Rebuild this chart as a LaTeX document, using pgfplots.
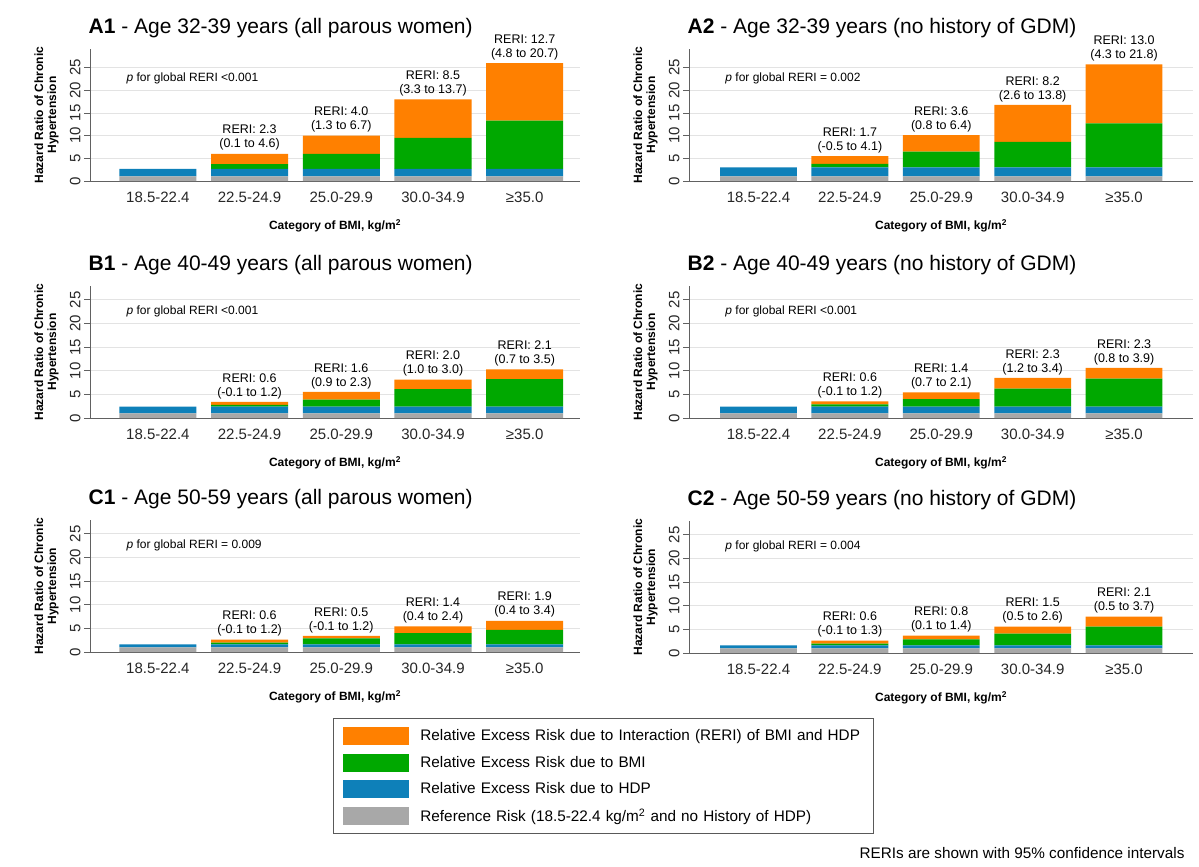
\documentclass[border=0pt]{standalone}
\usepackage{fontspec}
\setmainfont{Liberation Sans}
\usepackage{pgfplots}
\pgfplotsset{compat=1.18}
\usepackage{pgfplotstable}

\definecolor{corange}{RGB}{255,128,0}
\definecolor{cgreen}{RGB}{0,168,0}
\definecolor{cblue}{RGB}{14,128,185}
\definecolor{cgray}{RGB}{168,168,168}

\newcommand\ftitle{\fontsize{21bp}{25bp}\selectfont}
\newcommand\ftick{\fontsize{15bp}{18bp}\selectfont}
\newcommand\flab{\fontsize{12bp}{13bp}\selectfont\bfseries}
\newcommand\freri{\fontsize{12.5bp}{14bp}\selectfont}
\newcommand\fp{\fontsize{12bp}{14bp}\selectfont}
\newcommand\fleg{\fontsize{15.3bp}{18bp}\selectfont}

% columns: x, reference risk, excess due to HDP, excess due to BMI, RERI
\pgfplotstableread{
x ref hdp bmi reri
0 1 1.7 0    0
1 1 1.7 1.0  2.3
2 1 1.7 3.3  4.0
3 1 1.7 6.8  8.5
4 1 1.7 10.6 12.7
}\tabAone
\pgfplotstableread{
x ref hdp bmi reri
0 1 2.0 0   0
1 1 2.0 0.8 1.7
2 1 2.0 3.5 3.6
3 1 2.0 5.6 8.2
4 1 2.0 9.7 13.0
}\tabAtwo
\pgfplotstableread{
x ref hdp bmi reri
0 1 1.4 0   0
1 1 1.4 0.4 0.6
2 1 1.4 1.5 1.6
3 1 1.4 3.7 2.0
4 1 1.4 5.8 2.1
}\tabBone
\pgfplotstableread{
x ref hdp bmi reri
0 1 1.4 0   0
1 1 1.4 0.5 0.6
2 1 1.4 1.6 1.4
3 1 1.4 3.8 2.3
4 1 1.4 5.9 2.3
}\tabBtwo
\pgfplotstableread{
x ref hdp bmi reri
0 1 0.6 0   0
1 1 0.6 0.4 0.6
2 1 0.6 1.3 0.5
3 1 0.6 2.4 1.4
4 1 0.6 3.1 1.9
}\tabCone
\pgfplotstableread{
x ref hdp bmi reri
0 1 0.6 0   0
1 1 0.6 0.4 0.6
2 1 0.6 1.3 0.8
3 1 0.6 2.5 1.5
4 1 0.6 4.0 2.1
}\tabCtwo

\tikzset{reri/.style={anchor=south, align=center, inner sep=0pt, yshift=3bp, font=\freri}}

\pgfplotsset{
  legimg/.style={legend image code/.code={\fill[##1] (0bp,-9bp) rectangle (66bp,9bp);}},
  panelbase/.style={
    ybar stacked, bar width=0.84,
    scale only axis, height=132bp, ymin=0,
    axis lines*=left,
    axis line style={draw=black!62, line width=1bp},
    ytick={0,5,10,15,20,25},
    xtick={0,1,2,3,4},
    xticklabels={18.5-22.4,22.5-24.9,25.0-29.9,30.0-34.9,≥35.0},
    ymajorgrids, major grid style={draw=black!11, line width=0.9bp},
    ytick align=outside, xtick align=inside,
    major tick length=6bp,
    ytick style={draw=black!62, line width=0.9bp},
    xtick style={draw=none},
    /pgf/number format/assume math mode=true,
    tick label style={font=\ftick, text=black!85},
    yticklabel style={rotate=90, anchor=south},
    xticklabel style={anchor=base, yshift=-21bp},
    ylabel={Hazard Ratio of Chronic\\Hypertension},
    ylabel style={font=\flab, align=center, at={(axis description cs:0,0.5)}, anchor=center, yshift=43.5bp},
    xlabel={Category of BMI, kg/m\textsuperscript{2}},
    xlabel style={font=\flab, at={(axis description cs:0.5,0)}, anchor=center, yshift=-45bp},
    title style={font=\ftitle, at={(axis description cs:0,1)}, anchor=base west, yshift=10bp, xshift=-1.5bp, inner sep=0pt},
    clip=false,
  },
  leftp/.style={panelbase, width=490bp, xmin=-0.74, xmax=4.603},
  rightp/.style={panelbase, width=504bp, xmin=-0.76, xmax=4.754},
  Arow/.style={ymax=29.1},
  BCrow/.style={ymax=27.9},
}

\newcommand\bars[1]{%
  \addplot[fill=cgray, draw=none, legimg] table[x=x, y=ref]{#1};
  \addplot[fill=cblue, draw=none, legimg] table[x=x, y=hdp]{#1};
  \addplot[fill=cgreen, draw=none, legimg] table[x=x, y=bmi]{#1};
  \addplot[fill=corange, draw=none, legimg] table[x=x, y=reri]{#1};
}
\newcommand\reri[3]{\node[reri] at (axis cs:#1,#2) {RERI: #3};}

\begin{document}
\begin{tikzpicture}
\path[use as bounding box] (0bp,0bp) rectangle (1199bp,-867bp);

% ---------------- A1
\begin{axis}[leftp, Arow, at={(90bp,-181bp)}, anchor=south west,
  title={\textbf{A1} - Age 32-39 years (all parous women)}]
\bars{\tabAone}
\node[anchor=west, font=\fp] at (axis cs:-0.38,22.6) {\textit{p} for global RERI <0.001};
\reri{1}{6.0}{2.3\\(0.1 to 4.6)}
\reri{2}{10.0}{4.0\\(1.3 to 6.7)}
\reri{3}{18.0}{8.5\\(3.3 to 13.7)}
\reri{4}{26.0}{12.7\\(4.8 to 20.7)}
\end{axis}

% ---------------- A2
\begin{axis}[rightp, Arow, at={(689bp,-181bp)}, anchor=south west,
  title={\textbf{A2} - Age 32-39 years (no history of GDM)}]
\bars{\tabAtwo}
\node[anchor=west, font=\fp] at (axis cs:-0.40,22.6) {\textit{p} for global RERI = 0.002};
\reri{1}{5.5}{1.7\\(-0.5 to 4.1)}
\reri{2}{10.1}{3.6\\(0.8 to 6.4)}
\reri{3}{16.8}{8.2\\(2.6 to 13.8)}
\reri{4}{25.7}{13.0\\(4.3 to 21.8)}
\end{axis}

% ---------------- B1
\begin{axis}[leftp, BCrow, at={(90bp,-418bp)}, anchor=south west,
  title={\textbf{B1} - Age 40-49 years (all parous women)}]
\bars{\tabBone}
\node[anchor=west, font=\fp] at (axis cs:-0.38,22.6) {\textit{p} for global RERI <0.001};
\reri{1}{3.4}{0.6\\(-0.1 to 1.2)}
\reri{2}{5.5}{1.6\\(0.9 to 2.3)}
\reri{3}{8.1}{2.0\\(1.0 to 3.0)}
\reri{4}{10.3}{2.1\\(0.7 to 3.5)}
\end{axis}

% ---------------- B2
\begin{axis}[rightp, BCrow, at={(689bp,-418bp)}, anchor=south west,
  title={\textbf{B2} - Age 40-49 years (no history of GDM)}]
\bars{\tabBtwo}
\node[anchor=west, font=\fp] at (axis cs:-0.40,22.6) {\textit{p} for global RERI <0.001};
\reri{1}{3.5}{0.6\\(-0.1 to 1.2)}
\reri{2}{5.4}{1.4\\(0.7 to 2.1)}
\reri{3}{8.5}{2.3\\(1.2 to 3.4)}
\reri{4}{10.6}{2.3\\(0.8 to 3.9)}
\end{axis}

% ---------------- C1 (holds the legend)
\begin{axis}[leftp, BCrow, at={(90bp,-652bp)}, anchor=south west,
  title={\textbf{C1} - Age 50-59 years (all parous women)},
  reverse legend,
  legend style={at={(axis description cs:0.4959,-0.5)}, anchor=north west,
    draw=black!65, line width=0.9bp, inner xsep=10bp, inner ysep=8.7bp,
    row sep=8.5bp, font=\fleg, cells={anchor=west},
    nodes={inner sep=0pt, text width=443bp, align=left},
    /tikz/every odd column/.append style={column sep=11bp}},
  legend entries={Reference Risk (18.5-22.4 kg/m\textsuperscript{2} and no History of HDP),
    Relative Excess Risk due to HDP,
    Relative Excess Risk due to BMI,
    Relative Excess Risk due to Interaction (RERI) of BMI and HDP}]
\bars{\tabCone}
\node[anchor=west, font=\fp] at (axis cs:-0.38,22.6) {\textit{p} for global RERI = 0.009};
\reri{1}{2.6}{0.6\\(-0.1 to 1.2)}
\reri{2}{3.4}{0.5\\(-0.1 to 1.2)}
\reri{3}{5.4}{1.4\\(0.4 to 2.4)}
\reri{4}{6.6}{1.9\\(0.4 to 3.4)}
\end{axis}

% ---------------- C2
\begin{axis}[rightp, BCrow, at={(689bp,-653bp)}, anchor=south west,
  title={\textbf{C2} - Age 50-59 years (no history of GDM)}]
\bars{\tabCtwo}
\node[anchor=west, font=\fp] at (axis cs:-0.40,22.6) {\textit{p} for global RERI = 0.004};
\reri{1}{2.6}{0.6\\(-0.1 to 1.3)}
\reri{2}{3.7}{0.8\\(0.1 to 1.4)}
\reri{3}{5.6}{1.5\\(0.5 to 2.6)}
\reri{4}{7.7}{2.1\\(0.5 to 3.7)}
\end{axis}

\node[anchor=base east, font=\fleg] at (1188bp,-858bp) {RERIs are shown with 95\% confidence intervals};
\end{tikzpicture}
\end{document}
